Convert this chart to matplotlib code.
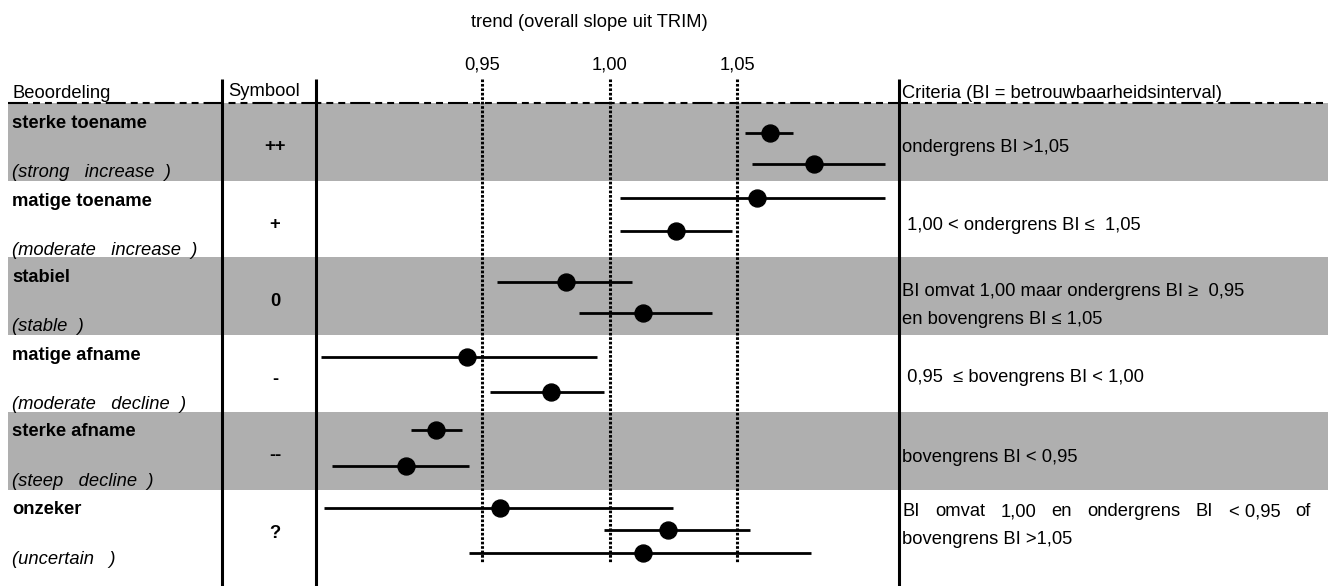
import matplotlib
matplotlib.use("Agg")
import matplotlib.pyplot as plt
from matplotlib.patches import Rectangle

# ---------------- data ----------------
title = "trend (overall slope uit TRIM)"
header_labels = ["Beoordeling", "Symbool", "Criteria (BI = betrouwbaarheidsinterval)"]
categories = ["sterke toename", "matige toename", "stabiel",
              "matige afname", "sterke afname", "onzeker"]
categories_en = ["(strong   increase  )", "(moderate   increase  )", "(stable  )",
                 "(moderate   decline  )", "(steep   decline  )", "(uncertain   )"]
symbols = ["++", "+", "0", "-", "--", "?"]
criteria = [
    ["ondergrens BI >1,05"],
    [" 1,00 < ondergrens BI \u2264  1,05"],
    ["BI omvat 1,00 maar ondergrens BI \u2265  0,95", "en bovengrens BI \u2264 1,05"],
    [" 0,95  \u2264 bovengrens BI < 1,00"],
    ["bovengrens BI < 0,95"],
    [["BI", "omvat", "1,00", "en", "ondergrens", "BI", "< 0,95", "of"], "bovengrens BI >1,05"],
]
tick_values = [0.95, 1.00, 1.05]
tick_labels = ["0,95", "1,00", "1,05"]

trend_row = [0, 0, 1, 1, 2, 2, 3, 3, 4, 4, 5, 5, 5]
trend_mid = [1.063, 1.080, 1.058, 1.026, 0.983, 1.013, 0.944, 0.977, 0.932, 0.920, 0.957, 1.023, 1.013]
trend_lo  = [1.053, 1.056, 1.004, 1.004, 0.956, 0.988, 0.887, 0.953, 0.922, 0.891, 0.888, 0.998, 0.945]
trend_hi  = [1.072, 1.108, 1.108, 1.048, 1.009, 1.040, 0.995, 0.998, 0.942, 0.945, 1.025, 1.055, 1.079]

# ---------------- layout (pixels) ----------------
W, H, DPI = 1328, 586, 100
band_edges = [103, 181, 257, 335, 412, 490, 586]
gray_rows = [0, 2, 4]
gray = "#afafaf"
point_offset = [30, 61, 17, 50, 25, 56, 22, 57, 18, 54, 18, 40, 63]
crit_first_off = [44, 43, 34, 42, 45, 21]
crit_line_gap = 27
col_lines = [222, 316, 899]
plot_left, plot_right = 316, 899
xlim = (0.8849, 1.1135)
FS = 13.2

plt.rcParams["font.family"] = ["Liberation Sans", "DejaVu Sans"]
plt.rcParams["lines.scale_dashes"] = False

fig = plt.figure(figsize=(W / DPI, H / DPI), dpi=DPI)
lay = fig.add_axes([0, 0, 1, 1], zorder=0)
lay.set_xlim(0, W)
lay.set_ylim(H, 0)
lay.axis("off")

# bands
for r in gray_rows:
    top, bot = band_edges[r], band_edges[r + 1]
    lay.add_patch(Rectangle((8, top), W - 8, bot - top, facecolor=gray, edgecolor="none", zorder=0))

# header dashed line
lay.plot([8, W], [102.5, 102.5], color="black", lw=1.5,
         linestyle=(0, (14.4, 3.6, 5, 3.6, 5, 3.6)), zorder=3)

# column lines
for x in col_lines:
    lay.plot([x, x], [79, H], color="black", lw=2.2, solid_capstyle="butt", zorder=4)

# title & headers
lay.text(471, 27, title, fontsize=FS, ha="left", va="baseline")
lay.text(12, 98, header_labels[0], fontsize=FS, ha="left", va="baseline")
lay.text(228, 96, header_labels[1], fontsize=FS, ha="left", va="baseline")
lay.text(902, 98, header_labels[2], fontsize=FS, ha="left", va="baseline")

# row labels, symbols, criteria
fig.canvas.draw()
renderer = fig.canvas.get_renderer()
for i in range(len(categories)):
    top = band_edges[i]
    lay.text(12, top + 24.5, categories[i], fontsize=FS, fontweight="bold", ha="left", va="baseline")
    lay.text(12, top + 74, categories_en[i], fontsize=FS, fontstyle="italic", ha="left", va="baseline")
    lay.text(275, top + 44, symbols[i], fontsize=FS, fontweight="bold", ha="center", va="center")
    for k, line in enumerate(criteria[i]):
        y = top + crit_first_off[i] + k * crit_line_gap + 1
        if isinstance(line, list):
            # justified line
            x0, x1 = 902, 1311
            texts = [lay.text(0, y, w, fontsize=FS, ha="left", va="center") for w in line]
            widths = [t.get_window_extent(renderer).width for t in texts]
            gap = (x1 - x0 - sum(widths)) / (len(line) - 1)
            x = x0
            for t, w in zip(texts, widths):
                t.set_x(x)
                x += w + gap
        else:
            lay.text(902, y, line, fontsize=FS, ha="left", va="center")

# ---------------- data axes ----------------
ax = fig.add_axes([plot_left / W, 0, (plot_right - plot_left) / W, 1], zorder=1)
ax.patch.set_alpha(0)
ax.set_xlim(*xlim)
ax.set_ylim(H, 0)
ax.axis("off")

for v, lab in zip(tick_values, tick_labels):
    ax.vlines(v, 79, 563, colors="black", lw=2.2, linestyles=[(0, (1.9, 1.3))], zorder=2)
    ax.text(v, 70, lab, fontsize=FS, ha="center", va="baseline")

ys = [band_edges[r] + off for r, off in zip(trend_row, point_offset)]
ax.hlines(ys, trend_lo, trend_hi, colors="black", lw=2.0, zorder=3)
ax.plot(trend_mid, ys, "o", color="black", ms=12.2, zorder=4)

fig.savefig("out.png", dpi=DPI)
